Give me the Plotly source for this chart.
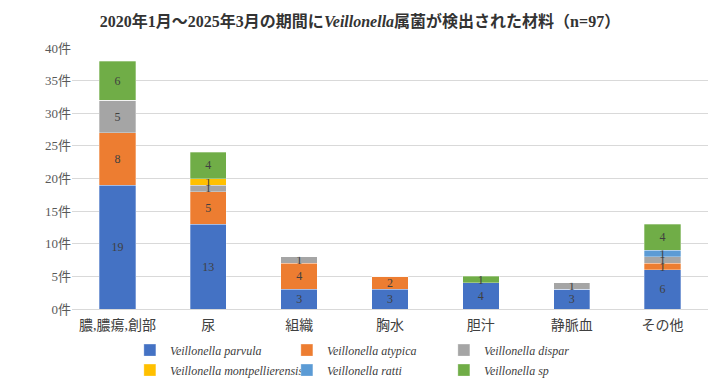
import plotly.graph_objects as go

categories = ["膿,膿瘍,創部", "尿", "組織", "胸水", "胆汁", "静脈血", "その他"]
series_names = ["Veillonella parvula", "Veillonella atypica", "Veillonella dispar",
                "Veillonella montpellierensis", "Veillonella ratti", "Veillonella sp"]
parvula = [19, 13, 3, 3, 4, 3, 6]
atypica = [8, 5, 4, 2, 0, 0, 1]
dispar = [5, 1, 1, 0, 0, 1, 1]
montpellierensis = [0, 1, 0, 0, 0, 0, 0]
ratti = [0, 0, 0, 0, 0, 0, 1]
sp = [6, 4, 0, 0, 1, 0, 4]
colors = ["#4472C4", "#ED7D31", "#A5A5A5", "#FFC000", "#5B9BD5", "#70AD47"]
y_ticks = [0, 5, 10, 15, 20, 25, 30, 35, 40]
y_tick_labels = [f"{v}件" for v in y_ticks]

serif = "Liberation Serif, Noto Sans CJK JP, serif"
fig = go.Figure()
all_series = [parvula, atypica, dispar, montpellierensis, ratti, sp]
for i, (name, vals, col) in enumerate(zip(series_names, all_series, colors)):
    fig.add_trace(go.Bar(
        x=categories, y=vals, name=f"<i>{name}</i>",
        legend="legend" if i < 3 else "legend2",
        marker=dict(color=col, line=dict(color="rgba(255,255,255,0.6)", width=0.5)),
        text=[str(v) if v else "" for v in vals],
        textposition="inside", insidetextanchor="middle", textangle=0,
        textfont=dict(family=serif, size=12, color="#404040"),
    ))

legend_common = dict(orientation="h", x=0.091, xanchor="left", yref="container",
                     yanchor="top", entrywidth=112, entrywidthmode="pixels",
                     traceorder="normal", tracegroupgap=0, bgcolor="rgba(0,0,0,0)",
                     font=dict(family=serif, size=12, color="#404040"))

fig.update_layout(
    barmode="stack", bargap=0.6,
    width=720, height=384,
    margin=dict(l=72, r=12, t=48, b=75),
    paper_bgcolor="white", plot_bgcolor="white",
    uniformtext=dict(minsize=12, mode="show"),
    title=dict(text="2020年1月～2025年3月の期間に<i>Veillonella</i>属菌が検出された材料（n=97）",
               x=0.5, xanchor="center", y=0.945, yanchor="middle",
               font=dict(family=serif, size=16, color="#333333", weight="bold")),
    xaxis=dict(tickfont=dict(family=serif, size=14, color="#404040"), showline=True,
               linecolor="#D9D9D9", ticks="", ticklabelstandoff=3, automargin=False),
    yaxis=dict(range=[0, 40], tickvals=y_ticks, ticktext=y_tick_labels,
               tickfont=dict(family=serif, size=13, color="#595959"),
               gridcolor="#D9D9D9", zeroline=False, ticks="", automargin=False),
    legend=dict(legend_common, y=0.126),
    legend2=dict(legend_common, y=0.074),
    showlegend=True,
)
fig.write_html("out.html", post_script="document.body.style.margin='0';",
               config={"displayModeBar": False})
